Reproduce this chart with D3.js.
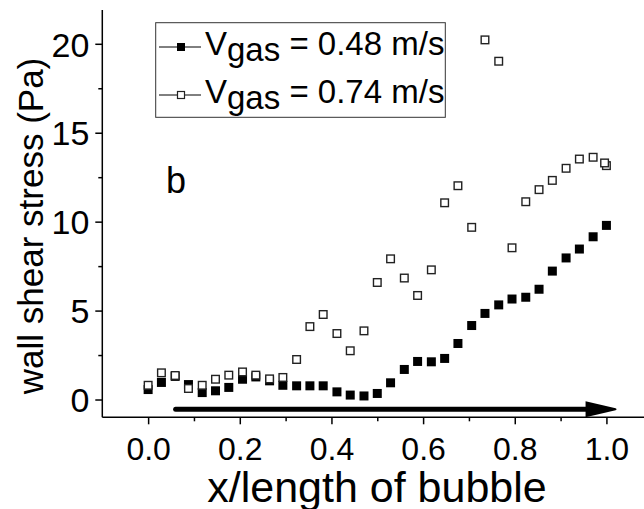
<!DOCTYPE html>
<html>
<head>
<meta charset="utf-8">
<script src="https://cdn.jsdelivr.net/npm/d3@7"></script>
<style>
  body { margin: 0; background: #fff; }
  text { font-family: 'Liberation Sans', Arial, sans-serif; fill: #000; }
</style>
</head>
<body>
<script>
// positions along the bubble (x / length)
const xPos = [0, 0.029, 0.059, 0.088, 0.118, 0.147, 0.176, 0.206, 0.235, 0.265, 0.294, 0.324,
  0.353, 0.382, 0.412, 0.441, 0.471, 0.5, 0.529, 0.559, 0.588, 0.618, 0.647, 0.676, 0.706,
  0.735, 0.765, 0.794, 0.824, 0.853, 0.882, 0.912, 0.941, 0.971, 1.0]

// wall shear stress (Pa), Vgas = 0.48 m/s
const slowVals = [0.56, 0.96, 1.3, 0.84, 0.39, 0.49, 0.68, 1.14, 1.27, 1.05, 0.8, 0.77,
  0.77, 0.77, 0.43, 0.25, 0.2, 0.34, 0.94, 1.69, 2.14, 2.12, 2.31, 3.15, 4.16,
  4.84, 5.32, 5.65, 5.75, 6.2, 7.22, 7.96, 8.46, 9.15, 9.79]

// wall shear stress (Pa), Vgas = 0.74 m/s (last one is a doubled point at the end)
const fastX = xPos.concat([0.996])
const fastVals = [0.8, 1.5, 1.35, 0.62, 0.8, 1.14, 1.37, 1.55, 1.37, 1.16, 1.24, 2.25,
  4.1, 4.78, 3.71, 2.74, 3.86, 6.58, 7.91, 6.83, 5.85, 7.29, 11.06, 12.02, 9.68,
  20.22, 19.02, 8.53, 11.12, 11.8, 12.32, 13.0, 13.52, 13.62, 13.15, 13.3]

const xTicks = [0, 0.2, 0.4, 0.6, 0.8, 1.0]
const xMinor = [0.1, 0.3, 0.5, 0.7, 0.9]
const yTicks = [0, 5, 10, 15, 20]
const yMinor = [2.5, 7.5, 12.5, 17.5]

const legendLabels = ['0.48 m/s', '0.74 m/s']
const arrowFrom = 0.06
const arrowTo = 1.02
const arrowLevel = -0.55

const width = 644
const height = 509

const svg = d3.select('body')
  .append('svg')
  .attr('width', width)
  .attr('height', height)

const x = d3.scaleLinear().domain([-0.1, 1.082]).range([102.3, 644])
const y = d3.scaleLinear().domain([-1, 21.9]).range([417.3, 10])

// axes
const xAxis = svg.append('g')
  .attr('transform', `translate(0, ${y(-1)})`)
  .call(d3.axisBottom(x).tickValues(xTicks).tickSize(7).tickSizeOuter(0).tickFormat(d3.format('.1f')))
xAxis.select('.domain').remove()
xAxis.selectAll('.tick line').attr('stroke-width', 1.5)
xAxis.selectAll('.tick text')
  .attr('y', 20)
  .attr('dy', '0.71em')
  .style('font-size', '32px')

svg.append('g')
  .attr('transform', `translate(0, ${y(-1)})`)
  .call(d3.axisBottom(x).tickValues(xMinor).tickSize(4).tickFormat(''))
  .call(g => g.select('.domain').remove())
  .selectAll('.tick line').attr('stroke-width', 1.5)

svg.append('line')
  .attr('x1', x(-0.1)).attr('x2', 644)
  .attr('y1', y(-1)).attr('y2', y(-1))
  .attr('stroke', '#000').attr('stroke-width', 1.5)

const yAxis = svg.append('g')
  .attr('transform', `translate(${x(-0.1)}, 0)`)
  .call(d3.axisLeft(y).tickValues(yTicks).tickSize(7).tickSizeOuter(0))
yAxis.select('.domain').remove()
yAxis.selectAll('.tick line').attr('stroke-width', 1.5)
yAxis.selectAll('.tick text')
  .attr('x', -13)
  .attr('dy', '0.36em')
  .style('font-size', '34px')

svg.append('g')
  .attr('transform', `translate(${x(-0.1)}, 0)`)
  .call(d3.axisLeft(y).tickValues(yMinor).tickSize(4).tickFormat(''))
  .call(g => g.select('.domain').remove())
  .selectAll('.tick line').attr('stroke-width', 1.5)

svg.append('line')
  .attr('x1', x(-0.1)).attr('x2', x(-0.1))
  .attr('y1', y(21.9)).attr('y2', y(-1))
  .attr('stroke', '#000').attr('stroke-width', 1.5)

// axis titles
svg.append('text')
  .attr('x', 377)
  .attr('y', 502)
  .attr('text-anchor', 'middle')
  .style('font-size', '43px')
  .text('x/length of bubble')

svg.append('text')
  .attr('transform', 'translate(43, 226) rotate(-90)')
  .attr('text-anchor', 'middle')
  .style('font-size', '35px')
  .text('wall shear stress (Pa)')

// arrow along the bubble
svg.append('line')
  .attr('x1', x(arrowFrom))
  .attr('x2', x(arrowTo) - 25)
  .attr('y1', y(arrowLevel))
  .attr('y2', y(arrowLevel))
  .attr('stroke', '#000')
  .attr('stroke-width', 5)
  .attr('stroke-linecap', 'round')

svg.append('path')
  .attr('d', `M${x(arrowTo) - 30},${y(arrowLevel) - 8} L${x(arrowTo)},${y(arrowLevel) - 1} Q${x(arrowTo) + 2},${y(arrowLevel)} ${x(arrowTo)},${y(arrowLevel) + 1} L${x(arrowTo) - 30},${y(arrowLevel) + 8} Z`)
  .attr('fill', '#000')

// markers
const slow = xPos.map((d, i) => ({ x: d, v: slowVals[i] }))
const fast = fastX.map((d, i) => ({ x: d, v: fastVals[i] }))

svg.append('g')
  .selectAll('rect')
  .data(slow)
  .enter()
    .append('rect')
    .attr('x', d => x(d.x) - 4.5)
    .attr('y', d => y(d.v) - 4.5)
    .attr('width', 9)
    .attr('height', 9)
    .attr('fill', '#000')

svg.append('g')
  .selectAll('rect')
  .data(fast)
  .enter()
    .append('rect')
    .attr('x', d => x(d.x) - 3.8)
    .attr('y', d => y(d.v) - 3.8)
    .attr('width', 7.6)
    .attr('height', 7.6)
    .attr('fill', '#fff')
    .attr('stroke', '#222')
    .attr('stroke-width', 1.4)

// label b
svg.append('text')
  .attr('x', 166)
  .attr('y', 193)
  .style('font-size', '36px')
  .text('b')

// legend
const legend = svg.append('g')

legend.append('rect')
  .attr('x', 155.7)
  .attr('y', 22.7)
  .attr('width', 289.6)
  .attr('height', 94.6)
  .attr('fill', '#fff')
  .attr('stroke', '#333')
  .attr('stroke-width', 1)

const rows = legend.selectAll('g.row')
  .data(legendLabels)
  .enter()
    .append('g')
    .attr('class', 'row')
    .attr('transform', (d, i) => `translate(0, ${47 + i * 48})`)

rows.append('line')
  .attr('x1', 159).attr('x2', 201)
  .attr('stroke', '#000').attr('stroke-width', 1)

rows.append('rect')
  .attr('x', (d, i) => i === 0 ? 177 : 177.5)
  .attr('y', (d, i) => i === 0 ? -4 : -3.5)
  .attr('width', (d, i) => i === 0 ? 8 : 7)
  .attr('height', (d, i) => i === 0 ? 8 : 7)
  .attr('fill', (d, i) => i === 0 ? '#000' : '#fff')
  .attr('stroke', (d, i) => i === 0 ? 'none' : '#222')
  .attr('stroke-width', 1.2)

const rowText = rows.append('text')
  .attr('x', 205)
  .attr('y', 8)
  .style('font-size', '33px')

rowText.append('tspan').text('V')
rowText.append('tspan').attr('dy', 6).text('gas')
rowText.append('tspan').attr('dy', -6).text(d => ` = ${d}`)
</script>
</body>
</html>
